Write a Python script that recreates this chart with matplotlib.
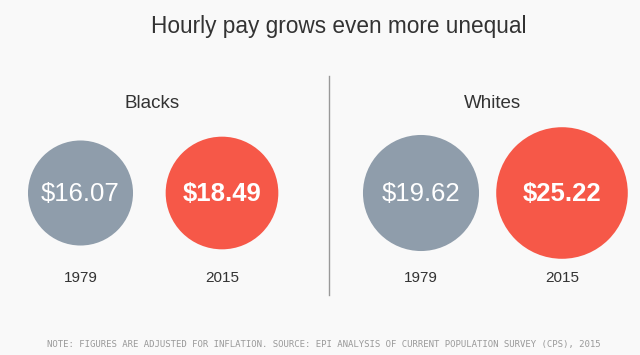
import numpy as np
import matplotlib.pyplot as plt
from matplotlib.patches import Circle

# Data
groups = ["Blacks", "Whites"]
years = ["1979", "2015"]
pay_1979 = [16.07, 19.62]
pay_2015 = [18.49, 25.22]

title = "Hourly pay grows even more unequal"
note = ("NOTE: FIGURES ARE ADJUSTED FOR INFLATION. SOURCE: EPI ANALYSIS OF "
        "CURRENT POPULATION SURVEY (CPS), 2015")

# Layout (pixel coords)
W, H = 640, 355
bg = "#f9f9f9"
gray = "#8f9dab"
red = "#f65848"
font = "Liberation Sans"

group_x = [152, 492]
circle_x = [[80.5, 222], [421, 562]]
cy = 193
scale = 13.1  # radius in px per sqrt($)

fig = plt.figure(figsize=(6.4, 3.55), dpi=100, facecolor=bg)
ax = fig.add_axes([0, 0, 1, 1])
ax.set_xlim(0, W)
ax.set_ylim(H, 0)
ax.set_facecolor(bg)
ax.axis("off")

ax.text(339, 27, title, ha="center", va="center", fontsize=16.3,
        color="#333333", family=font)

ax.plot([329, 329], [76, 295], color="#999999", lw=1)

for i, g in enumerate(groups):
    ax.text(group_x[i], 103, g, ha="center", va="center", fontsize=13.5,
            color="#333333", family=font)
    vals = [pay_1979[i], pay_2015[i]]
    cols = [gray, red]
    for j, v in enumerate(vals):
        x = circle_x[i][j]
        r = scale * np.sqrt(v)
        ax.add_patch(Circle((x, cy), r, facecolor=cols[j], edgecolor="none"))
        ax.text(x, cy + 1, "$%.2f" % v, ha="center", va="center",
                fontsize=18.5, color="white", family=font,
                fontweight="bold" if j == 1 else "normal")
        ax.text(x, 278, years[j], ha="center", va="center", fontsize=11,
                color="#333333", family=font)

ax.text(324, 345, note, ha="center", va="center", fontsize=6.45,
        color="#9a9a9a", family="DejaVu Sans Mono")

fig.savefig("out.png", dpi=100, facecolor=bg)
